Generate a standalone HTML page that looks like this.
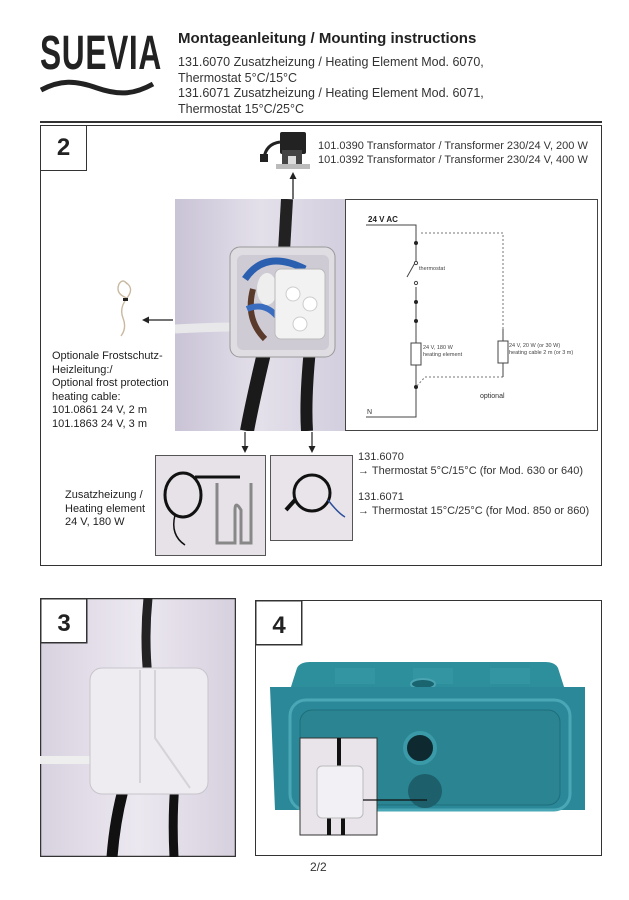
<!DOCTYPE html>
<html><head><meta charset="utf-8"><style>
body{margin:0;width:629px;height:900px;background:#fff;position:relative;overflow:hidden;font-family:"Liberation Sans",sans-serif;color:#222}
.a{position:absolute}
.t{font-size:11px;line-height:13.5px;white-space:nowrap}
.box{position:absolute;border:1.5px solid #333;box-sizing:border-box}
.num{position:absolute;background:#fff;border:1.5px solid #333;box-sizing:border-box;font:bold 24px "Liberation Sans",sans-serif;text-align:center;line-height:44px}
</style></head><body>
<div class="a" style="left:40px;top:26px;font:bold 48px 'Liberation Sans Narrow','Liberation Sans',sans-serif;transform:scaleX(0.66);transform-origin:left;letter-spacing:1px;color:#222">SUEVIA</div>
<svg class="a" style="left:40px;top:76px" width="115" height="22"><path d="M1 14 C20 4,35 4,57 12 C80 20,95 18,113 8" stroke="#222" stroke-width="5" fill="none"/></svg>
<div class="a" style="left:178px;top:30px;font:bold 15px 'Liberation Sans',sans-serif">Montageanleitung / Mounting instructions</div>
<div class="a" style="left:178px;top:55px;font-size:12.5px;line-height:15.5px;color:#333">131.6070 Zusatzheizung / Heating Element Mod. 6070,<br>Thermostat 5°C/15°C<br>131.6071 Zusatzheizung / Heating Element Mod. 6071,<br>Thermostat 15°C/25°C</div>
<div class="a" style="left:40px;top:121px;width:562px;height:2px;background:#333"></div>

<div class="box" style="left:40px;top:125px;width:562px;height:441px"></div>
<div class="num" style="left:40px;top:125px;width:47px;height:46px">2</div>

<svg class="a" style="left:258px;top:130px" width="56" height="42">
<rect x="22" y="2" width="26" height="22" fill="#222" rx="2"/><rect x="24" y="20" width="20" height="16" fill="#444"/><rect x="30" y="26" width="8" height="10" fill="#ddd"/>
<rect x="18" y="34" width="34" height="5" fill="#bbb"/><path d="M22 12 Q8 14 6 28" stroke="#222" stroke-width="3" fill="none"/><rect x="2" y="24" width="8" height="8" fill="#222"/></svg>
<div class="a t" style="left:318px;top:140px;color:#333">101.0390 Transformator / Transformer 230/24 V, 200 W<br>101.0392 Transformator / Transformer 230/24 V, 400 W</div>
<svg class="a" style="left:288px;top:172px" width="10" height="28"><line x1="5" y1="4" x2="5" y2="27" stroke="#222" stroke-width="1.3"/><path d="M1.5 7 L5 0 L8.5 7Z" fill="#222"/></svg>

<svg class="a" style="left:175px;top:199px" width="171" height="232">
<defs><linearGradient id="bg" x1="0" x2="1"><stop offset="0" stop-color="#c9c3d6"/><stop offset="0.5" stop-color="#e4e0ea"/><stop offset="1" stop-color="#d3cede"/></linearGradient></defs>
<rect width="171" height="232" fill="url(#bg)"/>
<path d="M112 0 L108 70" stroke="#222" stroke-width="12"/>
<path d="M90 150 Q78 200 72 232" stroke="#1a1a1a" stroke-width="14" fill="none"/>
<path d="M135 150 Q130 200 132 232" stroke="#1a1a1a" stroke-width="12" fill="none"/>
<path d="M0 130 Q40 128 60 128" stroke="#e8e8ea" stroke-width="9"/>
<rect x="55" y="48" width="105" height="110" rx="10" fill="#dfdde2" stroke="#999"/>
<rect x="62" y="56" width="92" height="95" rx="6" fill="#cfcbd4"/>
<path d="M70 80 Q90 50 130 70" stroke="#2b5fb0" stroke-width="7" fill="none"/>
<path d="M78 90 Q70 120 90 140" stroke="#5a3a2a" stroke-width="6" fill="none"/>
<path d="M72 110 Q95 100 110 130" stroke="#3a6dc0" stroke-width="6" fill="none"/>
<ellipse cx="92" cy="90" rx="10" ry="16" fill="#eee"/>
<rect x="100" y="70" width="50" height="70" rx="6" fill="#f2f2f2" stroke="#bbb"/>
<circle cx="118" cy="95" r="7" fill="#fff" stroke="#ccc"/><circle cx="135" cy="105" r="7" fill="#fff" stroke="#ccc"/><circle cx="125" cy="125" r="7" fill="#fff" stroke="#ccc"/>
</svg>

<svg class="a" style="left:345px;top:199px" width="255" height="232" font-family="Liberation Sans,sans-serif">
<rect x="0.5" y="0.5" width="252" height="231" fill="#fff" stroke="#444"/>
<text x="23" y="23" font-size="8" font-weight="bold" fill="#222">24 V AC</text>
<path d="M21 26 H71 V44" stroke="#444" fill="none"/>
<path d="M71 44 V62 M71 88 V218 H21" stroke="#444" fill="none"/>
<path d="M71 62 L62 78" stroke="#444"/>
<circle cx="71" cy="64" r="1.6" fill="#fff" stroke="#444"/><circle cx="71" cy="84" r="1.6" fill="#fff" stroke="#444"/>
<text x="74" y="71" font-size="5.5" fill="#444">thermostat</text>
<g fill="#222"><circle cx="71" cy="44" r="2"/><circle cx="71" cy="103" r="2"/><circle cx="71" cy="122" r="2"/><circle cx="71" cy="188" r="2"/></g>
<rect x="66" y="144" width="10" height="22" fill="#fff" stroke="#444"/>
<text x="78" y="150" font-size="5.5" fill="#444">24 V, 180 W</text><text x="78" y="157" font-size="5.5" fill="#444">heating element</text>
<path d="M76 34 H158 V130 M158 178 H80 L71 188" stroke="#777" stroke-dasharray="2,2" fill="none"/>
<path d="M158 130 V142 M158 164 V178" stroke="#444" fill="none"/>
<rect x="153" y="142" width="10" height="22" fill="#fff" stroke="#444"/>
<text x="164" y="148" font-size="5.5" fill="#444">24 V, 20 W (or 30 W)</text><text x="164" y="155" font-size="5.5" fill="#444">heating cable 2 m (or 3 m)</text>
<text x="135" y="199" font-size="7" fill="#333">optional</text>
<text x="22" y="215" font-size="7" fill="#333">N</text>
</svg>

<svg class="a" style="left:105px;top:278px" width="35" height="62"><path d="M20 4 Q30 10 22 20 Q14 30 18 40 Q22 50 16 58 M22 20 Q10 16 14 6 Q18 0 22 6" stroke="#c9b9a0" stroke-width="1.4" fill="none"/><rect x="18" y="20" width="5" height="3" fill="#222"/></svg>
<svg class="a" style="left:142px;top:315px" width="32" height="10"><line x1="4" y1="5" x2="31" y2="5" stroke="#222" stroke-width="1.3"/><path d="M7 1.5 L0 5 L7 8.5Z" fill="#222"/></svg>
<div class="a t" style="left:52px;top:350px">Optionale Frostschutz-<br>Heizleitung:/<br>Optional frost protection<br>heating cable:<br>101.0861 24 V, 2 m<br>101.1863 24 V, 3 m</div>

<svg class="a" style="left:240px;top:432px" width="10" height="22"><line x1="5" y1="0" x2="5" y2="18" stroke="#222" stroke-width="1.2"/><path d="M1.5 14 L5 21 L8.5 14Z" fill="#222"/></svg>
<svg class="a" style="left:307px;top:432px" width="10" height="22"><line x1="5" y1="0" x2="5" y2="18" stroke="#222" stroke-width="1.2"/><path d="M1.5 14 L5 21 L8.5 14Z" fill="#222"/></svg>

<svg class="a" style="left:155px;top:455px" width="111" height="101">
<rect x="0.5" y="0.5" width="110" height="100" fill="#e6e2e8" stroke="#555"/>
<ellipse cx="28" cy="40" rx="18" ry="22" stroke="#111" stroke-width="3" fill="none"/>
<path d="M20 60 Q15 80 30 90" stroke="#111" stroke-width="1.5" fill="none"/>
<path d="M40 22 H85" stroke="#111" stroke-width="3"/>
<path d="M62 28 V88 H80 V55 Q80 45 86 55 V88 H96 V28" stroke="#888" stroke-width="3" fill="none"/>
</svg>
<svg class="a" style="left:270px;top:455px" width="83" height="86">
<rect x="0.5" y="0.5" width="82" height="85" fill="#e8e4ea" stroke="#555"/>
<ellipse cx="42" cy="38" rx="18" ry="18" stroke="#111" stroke-width="3" fill="none"/>
<path d="M25 45 L16 55" stroke="#111" stroke-width="4"/><path d="M58 45 Q68 58 75 62" stroke="#2b4f9a" stroke-width="1.5" fill="none"/>
</svg>
<div class="a t" style="left:358px;top:451px;color:#333">131.6070<br>→ Thermostat 5°C/15°C (for Mod. 630 or 640)</div>
<div class="a t" style="left:358px;top:491px;color:#333">131.6071<br>→ Thermostat 15°C/25°C (for Mod. 850 or 860)</div>
<div class="a t" style="left:65px;top:489px">Zusatzheizung /<br>Heating element<br>24 V, 180 W</div>

<svg class="a" style="left:40px;top:598px" width="196" height="259">
<defs><linearGradient id="g3" x1="0" x2="1"><stop offset="0" stop-color="#d8d2e0"/><stop offset="0.5" stop-color="#ece8f0"/><stop offset="1" stop-color="#d6d0de"/></linearGradient></defs>
<rect x="0.5" y="0.5" width="195" height="258" fill="url(#g3)" stroke="#333" stroke-width="1.5"/>
<path d="M108 0 Q104 40 108 80" stroke="#222" stroke-width="9" fill="none"/>
<path d="M85 185 Q75 220 72 259" stroke="#111" stroke-width="11" fill="none"/>
<path d="M135 185 Q132 220 134 259" stroke="#111" stroke-width="9" fill="none"/>
<path d="M0 162 H50" stroke="#eee" stroke-width="8"/>
<rect x="50" y="70" width="118" height="126" rx="12" fill="#eeecf0" stroke="#c8c4cc"/>
<path d="M100 72 V185 M115 72 V140 L150 190" stroke="#d6d2da" stroke-width="2" fill="none"/>
<rect x="0.75" y="0.75" width="46" height="44" fill="#fff" stroke="#333" stroke-width="1.5"/>
<text x="24" y="33" text-anchor="middle" font-family="Liberation Sans,sans-serif" font-weight="bold" font-size="24" fill="#222">3</text>
</svg>

<div class="box" style="left:255px;top:600px;width:347px;height:256px"></div>
<svg class="a" style="left:255px;top:600px" width="347" height="256">
<path d="M35 90 L42 68 Q45 62 55 62 H290 Q300 62 303 68 L310 90Z" fill="#2d8e9c"/>
<rect x="80" y="68" width="40" height="16" fill="#3a9aa8" opacity="0.5"/><rect x="158" y="68" width="40" height="16" fill="#3a9aa8" opacity="0.5"/><rect x="235" y="68" width="40" height="16" fill="#3a9aa8" opacity="0.5"/>
<ellipse cx="168" cy="84" rx="12" ry="5" fill="#1a6470" stroke="#4aa4b2" stroke-width="2"/>
<path d="M15 87 H330 V210 H20 Z" fill="#2a8898"/>
<rect x="35" y="100" width="280" height="110" rx="16" fill="none" stroke="#4aa8b6" stroke-width="3"/>
<rect x="45" y="110" width="260" height="95" rx="12" fill="#2b8492" stroke="#1f6e7a"/>
<circle cx="165" cy="148" r="15" fill="#0e2a30" stroke="#3a9aa8" stroke-width="4"/>
<circle cx="170" cy="191" r="17" fill="#1d5f6a"/>
<rect x="45" y="138" width="77" height="97" fill="#e8e4ea" stroke="#333"/>
<path d="M84 138 V168 M74 215 V235 M88 215 V235" stroke="#111" stroke-width="4"/>
<rect x="62" y="166" width="46" height="52" rx="5" fill="#f2f0f4" stroke="#bbb"/>
<line x1="108" y1="200" x2="172" y2="200" stroke="#111" stroke-width="1.3"/>
<rect x="0.75" y="0.75" width="46" height="44" fill="#fff" stroke="#333" stroke-width="1.5"/>
<text x="24" y="33" text-anchor="middle" font-family="Liberation Sans,sans-serif" font-weight="bold" font-size="24" fill="#222">4</text>
</svg>
<div class="a" style="left:310px;top:860px;font-size:12px;color:#333">2/2</div>
</body></html>
